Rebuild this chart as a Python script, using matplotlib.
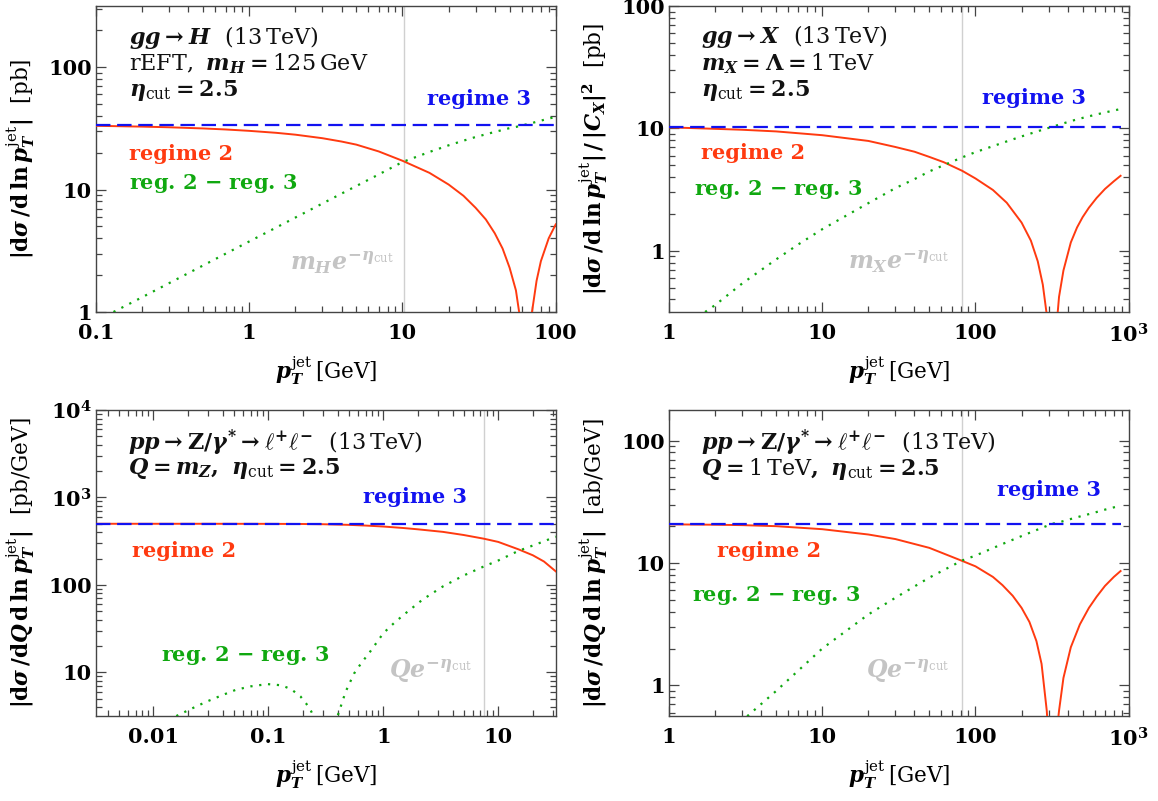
import numpy as np
import matplotlib
matplotlib.use("Agg")
import matplotlib.pyplot as plt
from matplotlib.ticker import LogLocator, NullFormatter

# bold math (rm/it/bf) with a regular-weight roman in the sf slot for unit text
plt.rcParams.update({
    "font.family": "DejaVu Serif",
    "font.weight": "bold",
    "mathtext.fontset": "custom",
    "mathtext.rm": "DejaVu Serif:weight=bold",
    "mathtext.it": "DejaVu Serif:style=italic:weight=bold",
    "mathtext.bf": "DejaVu Serif:weight=bold",
    "mathtext.sf": "DejaVu Serif:weight=normal",
    "mathtext.default": "it",
})

# ---------------- data ----------------
# gg -> H, rEFT, mH = 125 GeV
h_x_reg2 = [0.1, 0.2, 0.3, 0.5, 0.7, 1, 1.5, 2, 3, 4, 5, 7, 10, 15, 20, 25, 30, 35, 40,
            45, 50, 55, 57.7, 60, 62, 64, 66, 68, 70, 75, 80, 90, 100]
h_y_reg2 = [33.2, 32.7, 32.3, 31.6, 31.0, 30.2, 29.1, 28.1, 26.3, 24.7, 23.3, 20.5, 17.2,
            13.7, 11.0, 8.9, 7.1, 5.7, 4.4, 3.3, 2.3, 1.5, 1.0, 0.6, 0.3, 0.02, 0.3, 0.65,
            1.0, 1.8, 2.6, 4.0, 5.2]
h_x_diff = [0.13, 0.2, 0.3, 0.5, 0.7, 1, 1.5, 2, 3, 4, 5, 7, 10, 15, 20, 25, 30, 35, 40,
            45, 50, 55, 60, 70, 80, 90, 100]
h_y_diff = [1.0, 1.32, 1.72, 2.40, 2.99, 3.77, 4.90, 5.91, 7.69, 9.27, 10.7, 13.3, 16.8,
            20.3, 23.0, 25.1, 26.9, 28.3, 29.6, 30.7, 31.8, 32.5, 33.4, 35.0, 36.6, 38.0,
            39.3]
h_reg3 = 34.0
h_xrange = [0.1, 100]

# gg -> X, mX = Lambda = 1 TeV
x_x_reg2 = [1, 1.72, 3, 5, 10, 20, 30, 40, 50, 62, 82, 100, 130, 160, 200, 230, 255, 275,
            292, 310, 318, 330, 351, 375, 419, 460, 500, 550, 617, 700, 800, 885]
x_y_reg2 = [10.2, 9.98, 9.75, 9.45, 8.8, 7.9, 7.05, 6.45, 5.85, 5.3, 4.5, 3.9, 3.14, 2.47,
            1.7, 1.21, 0.82, 0.53, 0.3, 0.07, 0.01, 0.17, 0.42, 0.69, 1.17, 1.55, 1.88,
            2.25, 2.7, 3.2, 3.7, 4.1]
x_x_diff = [1.72, 2, 3, 5, 7, 10, 15, 20, 30, 40, 50, 62, 82, 100, 130, 160, 200, 255, 316,
            419, 460, 500, 550, 617, 700, 800, 885]
x_y_diff = [0.316, 0.36, 0.54, 0.85, 1.13, 1.5, 2.0, 2.45, 3.25, 3.85, 4.45, 5.0, 5.8, 6.4,
            7.16, 7.83, 8.6, 9.48, 10.3, 11.47, 11.85, 12.18, 12.55, 13.0, 13.5, 14.0,
            14.4]
x_reg3 = 10.3
x_xrange = [1, 885]

# Drell-Yan, Q = mZ
z_x_reg2 = [0.00316, 0.01, 0.03, 0.1, 0.2, 0.3, 0.5, 0.7, 1, 1.5, 2, 3.3, 5, 7.45, 10,
            15, 20, 25, 31.6]
z_y_reg2 = [500, 500, 500, 499, 497, 494, 486, 477, 465, 447, 432, 404, 372, 338, 310,
            255, 218, 185, 143]
z_x_diff = [0.0158, 0.022, 0.0288, 0.04, 0.052, 0.07, 0.098, 0.13, 0.158, 0.19, 0.213,
            0.235, 0.247, 0.30, 0.40, 0.47, 0.557, 0.65, 0.75, 1.0, 1.25, 1.57, 2.2, 3.3,
            5, 7.45, 10, 15, 20, 25, 31.6]
z_y_diff = [3.16, 3.9, 4.6, 5.5, 6.3, 6.9, 7.33, 7.1, 6.4, 5.3, 4.4, 3.6, 3.16, 1.0,
            3.16, 6.0, 9.7, 13.0, 16.5, 28, 37, 47.6, 68, 96, 128, 162, 190, 245, 282,
            315, 357]
z_reg3 = 500.0
z_xrange = [0.00316, 31.6]

# Drell-Yan, Q = 1 TeV
q_x_reg2 = [1, 2, 3, 5, 10, 20, 30, 50, 82, 100, 130, 150, 175, 200, 225, 250, 270, 292,
            305, 316, 330, 351, 375, 419, 480, 550, 617, 700, 800, 885]
q_y_reg2 = [20.7, 20.55, 20.4, 20.0, 18.9, 17.1, 15.7, 13.3, 10.4, 9.4, 7.7, 6.6, 5.4,
            4.3, 3.3, 2.3, 1.5, 0.62, 0.25, 0.02, 0.3, 0.62, 1.15, 2.05, 3.15, 4.3, 5.3,
            6.5, 7.7, 8.6]
q_x_diff = [3.24, 5, 10, 20, 30, 50, 82, 100, 150, 200, 250, 316, 351, 419, 480, 550, 617,
            700, 800, 885]
q_y_diff = [0.56, 0.9, 2.0, 3.8, 5.2, 7.6, 10.5, 11.5, 14.3, 16.6, 18.6, 20.9, 21.5, 22.9,
            24.0, 25.1, 26.1, 27.3, 28.5, 29.5]
q_reg3 = 20.9
q_xrange = [1, 885]

# scale m e^{-eta_cut} marking the transition
cut_scales = [10.26, 82.1, 7.49, 82.1]

RED = "#ff3a10"
BLUE = "#1212f0"
GREEN = "#10a810"
GRAY = "#c4c4c4"

FS_TICK = 15
FS_LAB = 15.5
FS_INFO = 16
FS_REG = 15

fig = plt.figure(figsize=(11.58, 8.01), dpi=100)
W = 0.397
H = 0.382
ax1 = fig.add_axes([0.0829, 0.6105, W, H])
ax2 = fig.add_axes([0.5777, 0.6105, W, H])
ax3 = fig.add_axes([0.0829, 0.1061, W, H])
ax4 = fig.add_axes([0.5777, 0.1061, W, H])

CUT = r"\eta_{\mathsf{cut}}"
TEV13 = r"\ \ \mathsf{(13\,TeV)}"
DY = r"pp \rightarrow \mathrm{Z}/\gamma^{*} \rightarrow \ell^{+}\ell^{-}"

panels = [
    dict(ax=ax1, xr=h_x_reg2, yr=h_y_reg2, xd=h_x_diff, yd=h_y_diff, r3=h_reg3, x3=h_xrange,
         xlim=(0.1, 100), ylim=(1, 10 ** 2.5),
         xt=[0.1, 1, 10, 100], xtl=["0.1", "1", "10", "100"],
         yt=[1, 10, 100], ytl=["1", "10", "100"],
         ylabel=r"$|\mathrm{d}\sigma\,/\mathrm{d}\,\mathrm{ln}\,p_T^{\mathsf{jet}}|\ \ \mathsf{[pb]}$",
         info=[r"$gg \rightarrow H" + TEV13 + "$",
               r"$\mathsf{rEFT,}\ m_H = \mathsf{125\,GeV}$",
               r"$" + CUT + r" = 2.5$"],
         info_y=[0.897, 0.812, 0.724], info_x=0.072,
         r3pos=(0.947, 0.697), r2pos=(0.072, 0.517), dpos=(0.072, 0.419),
         gray=r"$m_H e^{-" + CUT + "}$", gpos=(0.648, 0.159)),
    dict(ax=ax2, xr=x_x_reg2, yr=x_y_reg2, xd=x_x_diff, yd=x_y_diff, r3=x_reg3, x3=x_xrange,
         xlim=(1, 1000), ylim=(10 ** -0.5, 100),
         xt=[1, 10, 100, 1000], xtl=["1", "10", "100", r"$\mathrm{10^3}$"],
         yt=[1, 10, 100], ytl=["1", "10", "100"],
         ylabel=r"$|\mathrm{d}\sigma\,/\mathrm{d}\,\mathrm{ln}\,p_T^{\mathsf{jet}}|\,/\,|C_X|^2\ \ \mathsf{[pb]}$",
         info=[r"$gg \rightarrow X" + TEV13 + "$",
               r"$m_X = \Lambda = \mathsf{1\,TeV}$",
               r"$" + CUT + r" = 2.5$"],
         info_y=[0.9, 0.813, 0.725], info_x=0.070,
         r3pos=(0.907, 0.698), r2pos=(0.070, 0.518), dpos=(0.054, 0.399),
         gray=r"$m_X e^{-" + CUT + "}$", gpos=(0.61, 0.164)),
    dict(ax=ax3, xr=z_x_reg2, yr=z_y_reg2, xd=z_x_diff, yd=z_y_diff, r3=z_reg3, x3=z_xrange,
         xlim=(10 ** -2.5, 10 ** 1.5), ylim=(10 ** 0.5, 1e4),
         xt=[0.01, 0.1, 1, 10], xtl=["0.01", "0.1", "1", "10"],
         yt=[10, 100, 1000, 10000],
         ytl=["10", "100", r"$\mathrm{10^3}$", r"$\mathrm{10^4}$"],
         ylabel=r"$|\mathrm{d}\sigma\,/\mathrm{d}Q\,\mathrm{d}\,\mathrm{ln}\,p_T^{\mathsf{jet}}|\ \ \mathsf{[pb/GeV]}$",
         info=[r"$" + DY + TEV13 + "$",
               r"$Q = m_Z,\ " + CUT + r" = 2.5$"],
         info_y=[0.894, 0.809], info_x=0.069,
         r3pos=(0.807, 0.715), r2pos=(0.079, 0.539), dpos=(0.141, 0.197),
         gray=r"$Q e^{-" + CUT + "}$", gpos=(0.817, 0.145)),
    dict(ax=ax4, xr=q_x_reg2, yr=q_y_reg2, xd=q_x_diff, yd=q_y_diff, r3=q_reg3, x3=q_xrange,
         xlim=(1, 1000), ylim=(10 ** -0.25, 10 ** 2.25),
         xt=[1, 10, 100, 1000], xtl=["1", "10", "100", r"$\mathrm{10^3}$"],
         yt=[1, 10, 100], ytl=["1", "10", "100"],
         ylabel=r"$|\mathrm{d}\sigma\,/\mathrm{d}Q\,\mathrm{d}\,\mathrm{ln}\,p_T^{\mathsf{jet}}|\ \ \mathsf{[ab/GeV]}$",
         info=[r"$" + DY + TEV13 + "$",
               r"$Q = \mathsf{1\,TeV},\ " + CUT + r" = 2.5$"],
         info_y=[0.893, 0.808], info_x=0.0706,
         r3pos=(0.94, 0.739), r2pos=(0.104, 0.539), dpos=(0.05, 0.394),
         gray=r"$Q e^{-" + CUT + "}$", gpos=(0.609, 0.145)),
]

for p, xc in zip(panels, cut_scales):
    ax = p["ax"]
    ax.set_xscale("log")
    ax.set_yscale("log")
    ax.set_xlim(*p["xlim"])
    ax.set_ylim(*p["ylim"])

    ax.axvline(xc, color="#d0d0d0", lw=1.0, zorder=1)
    ax.plot(p["xr"], p["yr"], color=RED, lw=1.4, zorder=3)
    ax.plot(p["xd"], p["yd"], color=GREEN, lw=1.6, dashes=[1.0, 3.0], zorder=3)
    ax.plot(p["x3"], [p["r3"], p["r3"]], color=BLUE, lw=1.6, dashes=[6.5, 3.0], zorder=4)

    ax.set_xticks(p["xt"], p["xtl"])
    ax.set_yticks(p["yt"], p["ytl"])
    ax.xaxis.set_minor_locator(LogLocator(base=10, subs=np.arange(2, 10), numticks=30))
    ax.yaxis.set_minor_locator(LogLocator(base=10, subs=np.arange(2, 10), numticks=30))
    ax.xaxis.set_minor_formatter(NullFormatter())
    ax.yaxis.set_minor_formatter(NullFormatter())
    ax.tick_params(which="both", direction="in", top=True, right=True,
                   color="#444444", width=0.9, labelsize=FS_TICK)
    ax.tick_params(which="major", length=7)
    ax.tick_params(which="minor", length=4)
    ax.tick_params(axis="x", which="major", pad=8)
    ax.tick_params(axis="y", which="major", pad=3)
    for s in ax.spines.values():
        s.set_color("#444444")
        s.set_linewidth(1.0)

    ax.set_xlabel(r"$p_T^{\mathsf{jet}}\,\mathsf{[GeV]}$", fontsize=FS_LAB)
    ax.xaxis.set_label_coords(0.5, -0.14)
    ax.set_ylabel(p["ylabel"], fontsize=FS_LAB)
    ax.yaxis.set_label_coords(-0.128, 0.5)

    for t, yy in zip(p["info"], p["info_y"]):
        ax.text(p["info_x"], yy, t, transform=ax.transAxes, fontsize=FS_INFO,
                ha="left", va="center", color="#111111")
    ax.text(*p["r3pos"], "regime 3", transform=ax.transAxes, fontsize=FS_REG,
            ha="right", va="center", color=BLUE)
    ax.text(*p["r2pos"], "regime 2", transform=ax.transAxes, fontsize=FS_REG,
            ha="left", va="center", color=RED)
    ax.text(*p["dpos"], r"reg. 2 $-$ reg. 3", transform=ax.transAxes, fontsize=FS_REG,
            ha="left", va="center", color=GREEN)
    ax.text(*p["gpos"], p["gray"], transform=ax.transAxes, fontsize=FS_INFO + 1,
            ha="right", va="center", color=GRAY)

fig.savefig("out.png", dpi=100)
